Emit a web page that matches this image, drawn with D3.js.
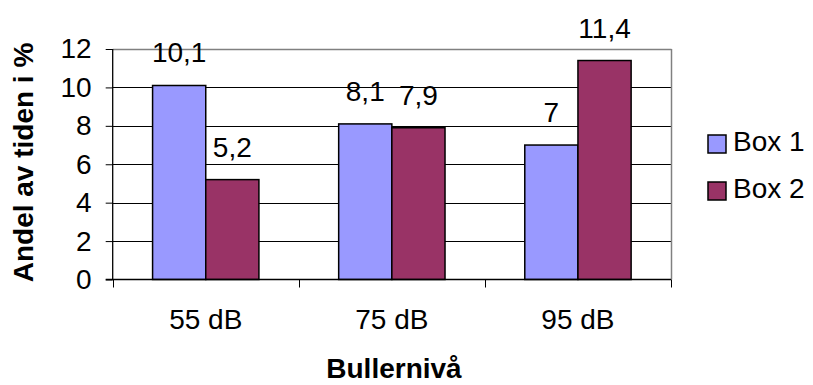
<!DOCTYPE html>
<html>
<head>
<meta charset="utf-8">
<script src="https://cdn.jsdelivr.net/npm/d3@7"></script>
<style>
  html, body { margin: 0; padding: 0; background: #fff; }
  svg { display: block; }
  text { font-family: Arial, "Liberation Sans", sans-serif; fill: #000; }
</style>
</head>
<body>
<svg id="chart" width="813" height="385"></svg>
<script>
const categories = ["55 dB", "75 dB", "95 dB"];
const seriesNames = ["Box 1", "Box 2"];
const box1 = [10.1, 8.1, 7];
const box2 = [5.2, 7.9, 11.4];
const yTicks = [0, 2, 4, 6, 8, 10, 12];
const colors = ["#9999FF", "#993366"];
const yTitle = "Andel av tiden i %";
const xTitle = "Bullernivå";

(function () {
const values = [box1, box2];
const fmt = d => String(d).replace(".", ",");
const FS = 28;

const svg = d3.select("#chart");
const pL = 112.7, pR = 671, pT = 49, pB = 279.5;

const x = d3.scaleBand().domain(categories).range([pL, pR]).paddingInner(0).paddingOuter(0);
const xs = d3.scaleBand().domain(seriesNames).range([0, x.bandwidth()]).paddingInner(0).paddingOuter(0.75);
const y = d3.scaleLinear().domain([0, 12]).range([pB, pT]);

// gridlines
svg.append("g").selectAll("line").data(yTicks.filter(t => t > 0 && t < 12)).join("line")
  .attr("x1", pL).attr("x2", pR)
  .attr("y1", d => Math.round(y(d)) + 0.5).attr("y2", d => Math.round(y(d)) + 0.5)
  .attr("stroke", "#000").attr("stroke-width", 1);
// top and right border (gray)
svg.append("line").attr("x1", pL).attr("x2", pR + 0.5).attr("y1", Math.round(pT) + 0.5).attr("y2", Math.round(pT) + 0.5)
  .attr("stroke", "#808080").attr("stroke-width", 1.5);
svg.append("line").attr("x1", Math.round(pR) + 0.5).attr("x2", Math.round(pR) + 0.5).attr("y1", pT).attr("y2", pB)
  .attr("stroke", "#808080").attr("stroke-width", 1.5);

// bars
const groups = svg.append("g").selectAll("g").data(categories).join("g")
  .attr("transform", d => `translate(${x(d)},0)`);
groups.selectAll("rect").data((c, i) => seriesNames.map((s, j) => ({ s, j, v: values[j][i] }))).join("rect")
  .attr("x", d => xs(d.s)).attr("width", xs.bandwidth())
  .attr("y", d => y(d.v)).attr("height", d => y(0) - y(d.v))
  .attr("fill", d => colors[d.j]).attr("stroke", "#000").attr("stroke-width", 1.5);
groups.selectAll("text").data((c, i) => seriesNames.map((s, j) => ({ s, j, v: values[j][i] }))).join("text")
  .attr("x", d => xs(d.s) + xs.bandwidth() / 2)
  .attr("y", d => y(d.v) - 23)
  .attr("text-anchor", "middle").attr("font-size", FS)
  .text(d => fmt(d.v));

// y axis
const yAxis = svg.append("g").attr("transform", `translate(${pL},0)`)
  .call(d3.axisLeft(y).tickValues(yTicks).tickSize(7).tickPadding(14).tickFormat(d3.format("d")));
yAxis.select(".domain").attr("stroke", "#000").attr("stroke-width", 1.3).attr("d", `M0,${pT}V${pB}`);
yAxis.selectAll(".tick line").attr("stroke", "#000");
yAxis.selectAll(".tick text").attr("font-size", FS).attr("font-family", "Arial, 'Liberation Sans', sans-serif").attr("fill", "#000");

// x axis
const xAxis = svg.append("g").attr("transform", `translate(0,${pB})`)
  .call(d3.axisBottom(x).tickSize(0).tickPadding(30));
xAxis.select(".domain").attr("stroke", "#000").attr("stroke-width", 1.3).attr("d", `M${pL - 7},0H${pR}`);
xAxis.selectAll(".tick text").attr("font-size", FS).attr("font-family", "Arial, 'Liberation Sans', sans-serif").attr("fill", "#000");
const bounds = categories.map(c => x(c)).concat([x.range()[1]]);
xAxis.append("g").selectAll("line").data(bounds).join("line")
  .attr("x1", d => Math.round(d) + 0.5).attr("x2", d => Math.round(d) + 0.5)
  .attr("y1", 0).attr("y2", 8).attr("stroke", "#000");

// titles
svg.append("text").attr("transform", `translate(33,${(42 + 283) / 2}) rotate(-90)`)
  .attr("text-anchor", "middle").attr("font-size", 28).attr("font-weight", "bold").text(yTitle);
svg.append("text").attr("x", 394).attr("y", 378)
  .attr("text-anchor", "middle").attr("font-size", 28).attr("font-weight", "bold").text(xTitle);

// legend
const lg = svg.append("g").selectAll("g").data(seriesNames).join("g")
  .attr("transform", (d, i) => `translate(708,${135 + i * 47})`);
lg.append("rect").attr("width", 18).attr("height", 18)
  .attr("fill", (d, i) => colors[i]).attr("stroke", "#000").attr("stroke-width", 1.5);
lg.append("text").attr("x", 25).attr("y", 16).attr("font-size", FS).text(d => d);
})();
</script>
</body>
</html>
